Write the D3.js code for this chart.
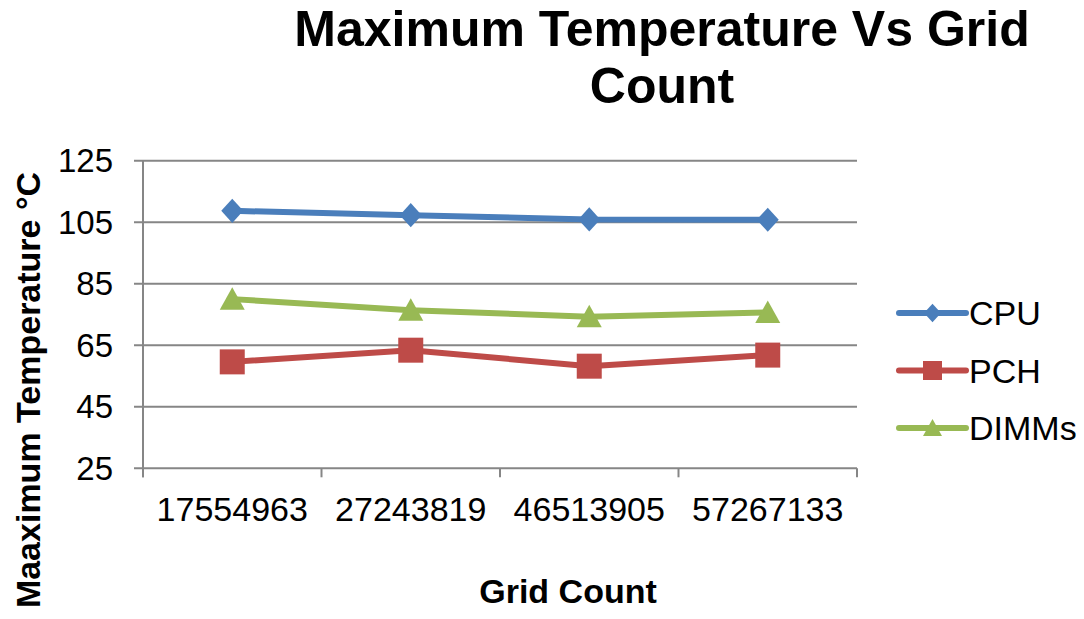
<!DOCTYPE html>
<html>
<head>
<meta charset="utf-8">
<script src="https://cdn.jsdelivr.net/npm/d3@7"></script>
<style>
  body { margin: 0; background: #ffffff; }
  text { font-family: "Liberation Sans", Arial, sans-serif; }
</style>
</head>
<body>
<svg id="chart" width="1084" height="619"></svg>
<script>
// data
var gridCounts = ["17554963", "27243819", "46513905", "57267133"];
var cpuTemps   = [108.7, 107.3, 105.9, 105.8];
var pchTemps   = [59.6, 63.4, 58.2, 61.8];
var dimmTemps  = [80.0, 76.4, 74.3, 75.7];
var yTicks     = [25, 45, 65, 85, 105, 125];

// marker shapes, "size" here is the half width
var diamond = { draw: function(ctx, r) {
  ctx.moveTo(0, -r * 1.1); ctx.lineTo(r, 0); ctx.lineTo(0, r * 1.1); ctx.lineTo(-r, 0); ctx.closePath();
} };
var square = { draw: function(ctx, r) {
  ctx.rect(-r, -r, 2 * r, 2 * r);
} };
var triangle = { draw: function(ctx, r) {
  ctx.moveTo(0, -r * 0.95); ctx.lineTo(r, r * 0.85); ctx.lineTo(-r, r * 0.85); ctx.closePath();
} };

var series = [
  { name: "CPU",   values: cpuTemps,  color: "#4A7EBB", symbol: diamond,  r: 11,   lr: 8.5 },
  { name: "PCH",   values: pchTemps,  color: "#BE4B48", symbol: square,   r: 12.5, lr: 9.5 },
  { name: "DIMMs", values: dimmTemps, color: "#98B954", symbol: triangle, r: 12.5, lr: 9.5 }
];

var svg = d3.select("#chart");
var plot = { left: 143, right: 857, top: 160.7, bottom: 468.3 };

var x = d3.scaleBand().domain(gridCounts).range([plot.left, plot.right]);
var y = d3.scaleLinear().domain([25, 125]).range([plot.bottom, plot.top]);

// gridlines
svg.append("g").selectAll("line").data(yTicks).enter().append("line")
  .attr("x1", plot.left - 9).attr("x2", plot.right)
  .attr("y1", function(d) { return y(d); }).attr("y2", function(d) { return y(d); })
  .style("stroke", "#868686").style("stroke-width", 2);

// y axis line
svg.append("line")
  .attr("x1", plot.left).attr("x2", plot.left)
  .attr("y1", plot.top).attr("y2", plot.bottom + 9)
  .style("stroke", "#868686").style("stroke-width", 2);

// x tick marks
var xEdges = gridCounts.map(function(d) { return x(d); }).concat([plot.right]);
svg.append("g").selectAll("line").data(xEdges).enter().append("line")
  .attr("x1", function(d) { return d; }).attr("x2", function(d) { return d; })
  .attr("y1", plot.bottom).attr("y2", plot.bottom + 9)
  .style("stroke", "#868686").style("stroke-width", 2);

// y tick labels
svg.append("g").selectAll("text").data(yTicks).enter().append("text")
  .attr("x", 113).attr("y", function(d) { return y(d) + 11.5; })
  .attr("text-anchor", "end")
  .style("font-size", "33px").style("fill", "#000")
  .text(function(d) { return d; });

// x tick labels
svg.append("g").selectAll("text").data(gridCounts).enter().append("text")
  .attr("x", function(d) { return x(d) + x.bandwidth() / 2; })
  .attr("y", 521)
  .attr("text-anchor", "middle")
  .style("font-size", "34px").style("fill", "#000")
  .text(function(d) { return d; });

// lines and markers
var line = d3.line()
  .x(function(d, i) { return x(gridCounts[i]) + x.bandwidth() / 2; })
  .y(function(d) { return y(d); });

series.forEach(function(s) {
  svg.append("path")
    .attr("d", line(s.values))
    .style("fill", "none").style("stroke", s.color)
    .style("stroke-width", 6).style("stroke-linejoin", "round");

  svg.append("g").selectAll("path").data(s.values).enter().append("path")
    .attr("transform", function(d, i) {
      return "translate(" + (x(gridCounts[i]) + x.bandwidth() / 2) + "," + y(d) + ")";
    })
    .attr("d", d3.symbol().type(s.symbol).size(s.r))
    .style("fill", s.color);
});

// legend
var legend = svg.append("g").attr("transform", "translate(899,313)");
series.forEach(function(s, i) {
  var row = legend.append("g").attr("transform", "translate(0," + (i * 57.5) + ")");
  row.append("line").attr("x1", 0).attr("x2", 67).attr("y1", 0).attr("y2", 0)
    .style("stroke", s.color).style("stroke-width", 6).style("stroke-linecap", "round");
  row.append("path").attr("transform", "translate(33.5,0)")
    .attr("d", d3.symbol().type(s.symbol).size(s.lr))
    .style("fill", s.color);
  row.append("text").attr("x", 70).attr("y", 12)
    .style("font-size", "34px").style("fill", "#000")
    .text(s.name);
});

// title
var title = svg.append("text")
  .attr("text-anchor", "middle")
  .style("font-size", "50px").style("font-weight", "bold").style("fill", "#000");
title.append("tspan").attr("x", 662).attr("y", 46).text("Maximum Temperature Vs Grid");
title.append("tspan").attr("x", 662).attr("y", 103).text("Count");

// axis titles
svg.append("text")
  .attr("x", 568).attr("y", 603).attr("text-anchor", "middle")
  .style("font-size", "34px").style("font-weight", "bold").style("fill", "#000")
  .text("Grid Count");

svg.append("text")
  .attr("transform", "translate(40,390) rotate(-90)")
  .attr("text-anchor", "middle")
  .style("font-size", "34px").style("font-weight", "bold").style("fill", "#000")
  .text("Maaximum Temperature °C");
</script>
</body>
</html>
